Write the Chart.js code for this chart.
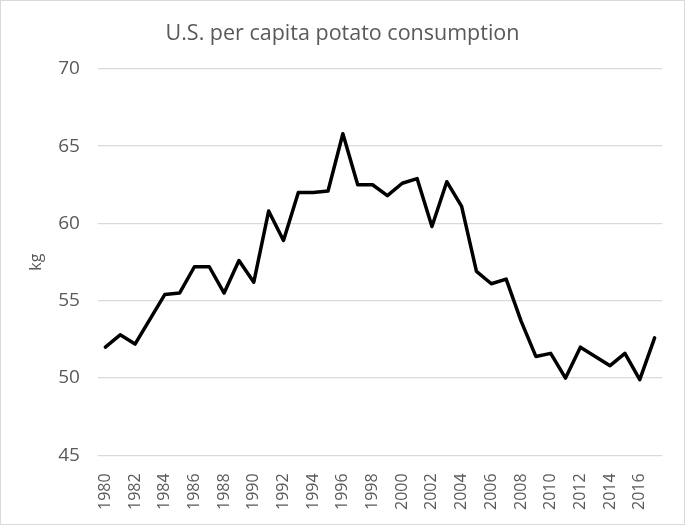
<!DOCTYPE html>
<html>
<head>
<meta charset="utf-8">
<script src="https://cdn.jsdelivr.net/npm/chart.js@4.4.1/dist/chart.umd.min.js"></script>
<style>
  body { margin: 0; background: #fff; }
  #wrap { position: relative; width: 685px; height: 525px; box-sizing: border-box; border: 1px solid #d9d9d9; }
</style>
</head>
<body>
<div id="wrap"><canvas id="chart"></canvas></div>
<script>
// years on the x axis
const years = [
  '1980', '1981', '1982', '1983', '1984', '1985', '1986', '1987', '1988', '1989',
  '1990', '1991', '1992', '1993', '1994', '1995', '1996', '1997', '1998', '1999',
  '2000', '2001', '2002', '2003', '2004', '2005', '2006', '2007', '2008', '2009',
  '2010', '2011', '2012', '2013', '2014', '2015', '2016', '2017'
];
// kg per person
const consumption = [
  52.0, 52.8, 52.2, 53.8, 55.4, 55.5, 57.2, 57.2, 55.5, 57.6,
  56.2, 60.8, 58.9, 62.0, 62.0, 62.1, 65.8, 62.5, 62.5, 61.8,
  62.6, 62.9, 59.8, 62.7, 61.1, 56.9, 56.1, 56.4, 53.7, 51.4,
  51.6, 50.0, 52.0, 51.4, 50.8, 51.6, 49.9, 52.6
];
const yTicks = { min: 45, max: 70, step: 5 };

const textColor = '#595959';
const gridColor = '#d9d9d9';
const fontFamily = "'Open Sans', sans-serif";

const ctx = document.getElementById('chart').getContext('2d');
new Chart(ctx, {
  type: 'line',
  data: {
    labels: years,
    datasets: [{
      label: 'kg',
      data: consumption,
      borderColor: '#000',
      borderWidth: 3.5,
      pointRadius: 0,
      tension: 0,
      borderJoinStyle: 'round',
      borderCapStyle: 'round',
      fill: false
    }]
  },
  options: {
    responsive: true,
    maintainAspectRatio: false,
    animation: false,
    layout: { padding: { top: 6, left: 15, right: 15, bottom: 4 } },
    plugins: {
      legend: { display: false },
      tooltip: { enabled: false },
      title: {
        display: true,
        text: 'U.S. per capita potato consumption',
        color: textColor,
        font: { family: fontFamily, size: 21.5, weight: 'normal' },
        padding: { top: 14, bottom: 22 }
      }
    },
    scales: {
      x: {
        offset: true,
        grid: { display: false },
        border: { display: false },
        ticks: {
          autoSkip: false,
          minRotation: 90,
          maxRotation: 90,
          color: textColor,
          font: { family: fontFamily, size: 16 },
          padding: 10,
          callback: function(value, index) {
            return index % 2 === 0 ? this.getLabelForValue(value) : '';
          }
        }
      },
      y: {
        min: yTicks.min,
        max: yTicks.max,
        border: { display: false },
        grid: { color: gridColor, lineWidth: 1.3, drawTicks: false },
        ticks: {
          stepSize: yTicks.step,
          color: textColor,
          font: { family: fontFamily, size: 19 },
          padding: 18
        },
        title: {
          display: true,
          text: 'kg',
          color: textColor,
          font: { family: fontFamily, size: 16 },
          padding: { top: 11, bottom: -6 }
        }
      }
    }
  }
});
</script>
</body>
</html>
